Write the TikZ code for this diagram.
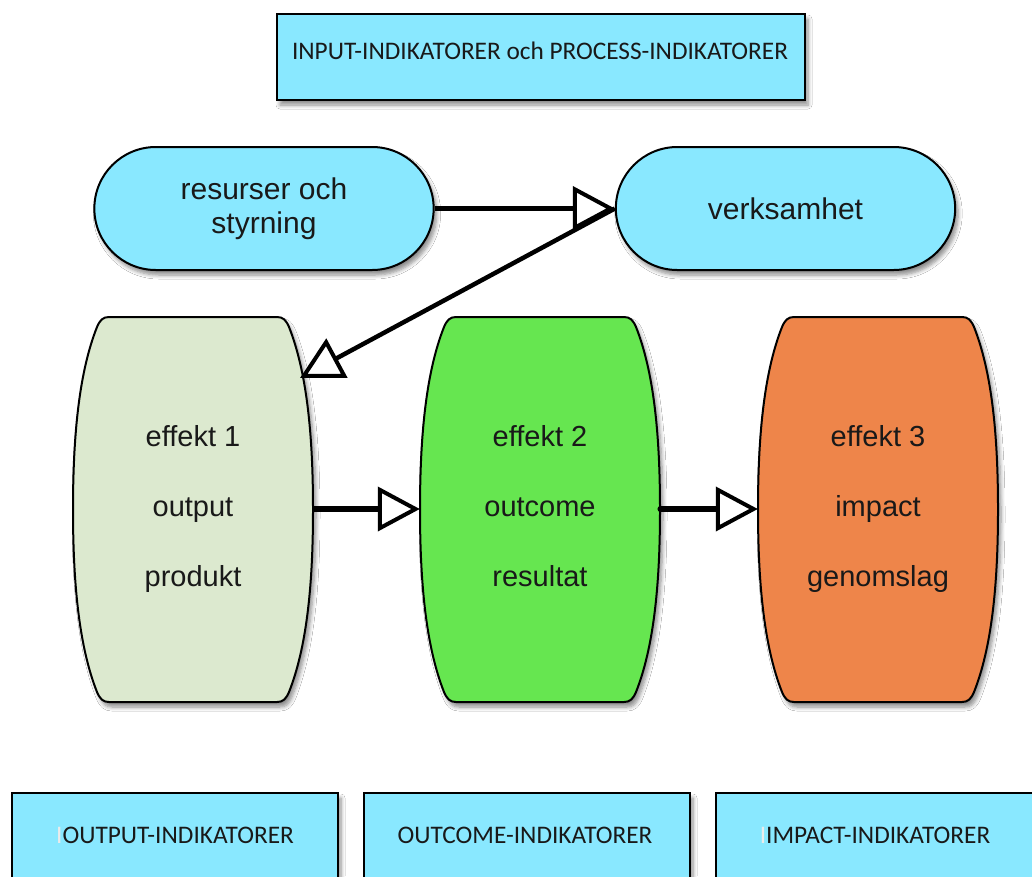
\documentclass[tikz,border=0pt]{standalone}
\usepackage{fontspec}
\setmainfont{Liberation Sans}
\newfontfamily\carlito{Carlito}
\usetikzlibrary{arrows.meta,shapes.misc,shadows.blur}
\definecolor{boxblue}{RGB}{137,232,255}
\definecolor{palegreen}{RGB}{220,233,207}
\definecolor{brightgreen}{RGB}{102,230,80}
\definecolor{orangefill}{RGB}{238,133,74}
\tikzset{
  shad/.style={blur shadow={shadow xshift=3pt, shadow yshift=-5pt, shadow opacity=45, shadow blur steps=6, shadow blur radius=4pt}},
  indbox/.style={draw=black, line width=2.5pt, fill=boxblue, shad, rectangle, inner sep=0pt},
  indtext/.style={font=\carlito\fontsize{25.3}{28}\selectfont, text=black!90, inner sep=0pt},
  stadium/.style={draw=black, line width=2pt, fill=boxblue, shad, rounded rectangle, minimum width=346pt, minimum height=123pt, align=center, font=\fontsize{30}{34}\selectfont, text=black!90},
  barrelline/.style={draw=black, line width=2pt, shad},
  btext/.style={rectangle, minimum width=240pt, minimum height=385pt, align=center, font=\fontsize{29}{70}\selectfont, text=black!90, inner sep=0pt},
  arr/.style={line width=5.5pt, -{Triangle[length=42pt, width=44pt, fill=white, line width=4pt]}},
}
\newcommand\drawbarrel[2]{%
  \begin{scope}[xshift=#1]
    \path[barrelline, fill=#2] (36,317) -- (204,317) .. controls (210,317) and (213,320) .. (216,327)
      .. controls (233,370) and (240,430) .. (240,509.5)
      .. controls (240,589) and (233,649) .. (216,692)
      .. controls (213,699) and (210,702) .. (204,702) -- (36,702)
      .. controls (30,702) and (27,699) .. (24,692)
      .. controls (7,649) and (0,589) .. (0,509.5)
      .. controls (0,430) and (7,370) .. (24,327)
      .. controls (27,320) and (30,317) .. (36,317) -- cycle;
  \end{scope}}
\begin{document}
\begin{tikzpicture}[x=1pt, y=-1pt]
  \clip (0,0) rectangle (1032,876);
  \fill[white] (0,0) rectangle (1032,876);

  % top indicator box
  \node[indbox, minimum width=528pt, minimum height=86pt] (topbox) at (541,57) {};
  \node[indtext] (toptext) at (540,50.5) {INPUT-INDIKATORER och PROCESS-INDIKATORER};

  % stadiums
  \node[stadium] (res) at (264,208.5) {resurser och\\styrning};
  \node[stadium] (verk) at (785.5,208.5) {verksamhet};

  % barrels
  \drawbarrel{73}{palegreen}
  \drawbarrel{420}{brightgreen}
  \drawbarrel{758}{orangefill}
  \node[btext] (e1) at (193,509) {effekt 1\\output\\produkt};
  \node[btext] (e2) at (540,509) {effekt 2\\outcome\\resultat\vphantom{g}};
  \node[btext] (e3) at (878,509) {effekt 3\\impact\\genomslag};

  % bottom indicator boxes
  \node[indbox, minimum width=326pt, minimum height=120pt] (ob) at (175,853) {};
  \node[indbox, minimum width=326pt, minimum height=120pt] (ocb) at (527,853) {};
  \node[indbox, minimum width=326pt, minimum height=120pt] (ib) at (879,853) {};
  \node[indtext] (obt) at (175,835) {\textcolor{black!8}{I}OUTPUT-INDIKATORER};
  \node[indtext] (ocbt) at (525,835) {OUTCOME-INDIKATORER};
  \node[indtext] (ibt) at (875,835) {\textcolor{black!8}{I}IMPACT-INDIKATORER};

  % connectors
  \coordinate (e1tip) at (300,378);
  \draw[arr] (res.east) -- (verk.west);
  \draw[arr, line width=4.5pt] (verk.west) -- (e1tip);
  \draw[arr] (e1.east) -- (e2.west);
  \draw[arr, line cap=round] (e2.east) -- (e3.west);
\end{tikzpicture}
\end{document}
